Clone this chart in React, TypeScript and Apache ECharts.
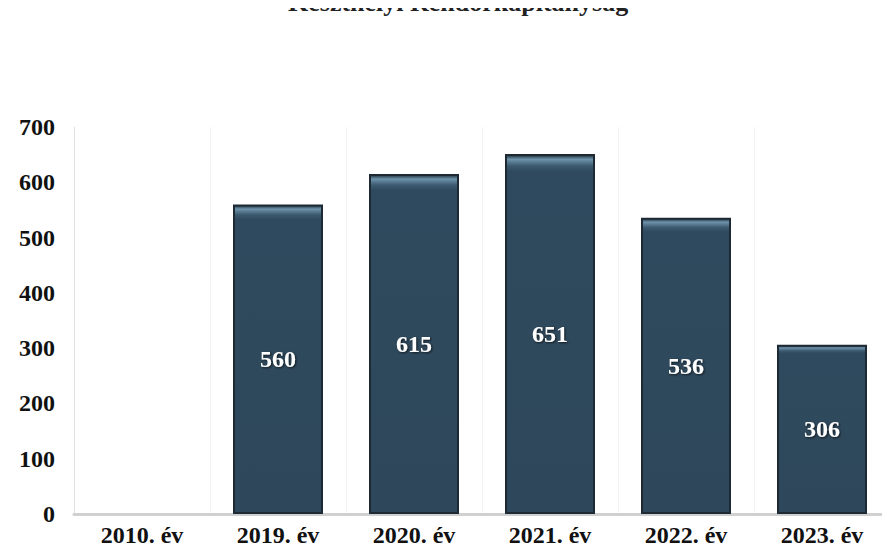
import React, { useEffect, useRef } from "react";
import * as echarts from "echarts";

const titleText = "Keszthelyi Rendőrkapitányság";
const categories = ["2010. év", "2019. év", "2020. év", "2021. év", "2022. év", "2023. év"];
const values: (number | null)[] = [null, 560, 615, 651, 536, 306];

export default function App() {
  const ref = useRef<HTMLDivElement>(null);
  useEffect(() => {
    if (!ref.current) return;
    const chart = echarts.init(ref.current, undefined, { renderer: "svg" });
    const serif = "'Liberation Serif', 'DejaVu Serif', serif";
    chart.setOption({
      animation: false,
      backgroundColor: "#ffffff",
      title: {
        text: titleText,
        left: 283,
        top: -16,
        textStyle: { fontFamily: serif, fontWeight: "bold", fontSize: 26, color: "#222" },
      },
      grid: { left: 74, right: -6, top: 127, bottom: 39, containLabel: false },
      xAxis: {
        type: "category",
        data: categories,
        axisLine: { show: true, lineStyle: { color: "#d0d0d0", width: 3 } },
        axisTick: { show: false },
        splitLine: { show: true, lineStyle: { color: "#f2f2f2", width: 1 } },
        axisLabel: {
          fontFamily: serif,
          fontWeight: "bold",
          fontSize: 24,
          color: "#111",
          margin: 9,
        },
      },
      yAxis: {
        type: "value",
        min: 0,
        max: 700,
        interval: 100,
        axisLine: { show: true, lineStyle: { color: "#e0e0e0", width: 1 } },
        axisTick: { show: false },
        splitLine: { show: false },
        axisLabel: {
          fontFamily: serif,
          fontWeight: "bold",
          fontSize: 24,
          color: "#111",
          margin: 19,
        },
      },
      series: [
        {
          type: "bar",
          data: values,
          barWidth: 90,
          itemStyle: {
            color: {
              type: "linear",
              x: 0,
              y: 0,
              x2: 0,
              y2: 1,
              colorStops: [
                { offset: 0, color: "#1f2f3b" },
                { offset: 0.012, color: "#6e93ab" },
                { offset: 0.03, color: "#3c5a70" },
                { offset: 0.045, color: "#2f4a5e" },
                { offset: 1, color: "#2e475a" },
              ],
            },
            borderColor: "#1d2a34",
            borderWidth: 2,
          },
          label: {
            show: true,
            position: "inside",
            fontFamily: serif,
            fontWeight: "bold",
            fontSize: 24,
            color: "#ffffff",
            textShadowColor: "rgba(0,0,0,0.7)",
            textShadowBlur: 2,
            textShadowOffsetX: 1,
            textShadowOffsetY: 1,
          },
        },
      ],
    });
    return () => chart.dispose();
  }, []);
  return <div ref={ref} style={{ width: 890, height: 553, margin: -8 }} />;
}
